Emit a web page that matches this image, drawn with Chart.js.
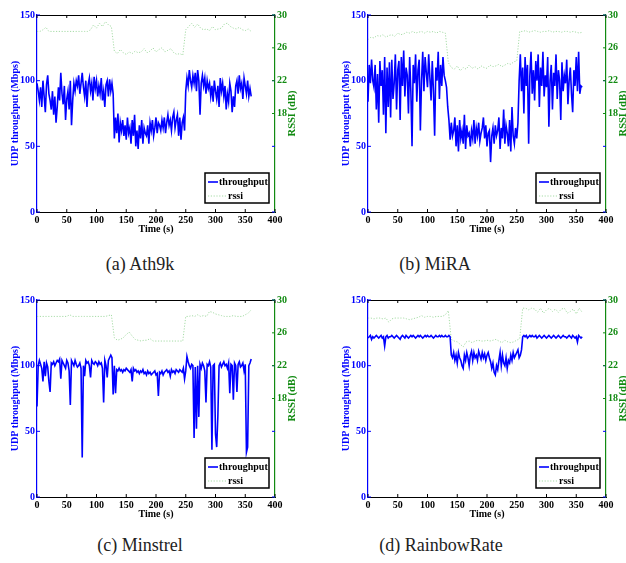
<!DOCTYPE html>
<html>
<head>
<meta charset="utf-8">
<script src="https://cdn.jsdelivr.net/npm/chart.js@4.4.0/dist/chart.umd.min.js"></script>
<style>
  html, body { margin: 0; padding: 0; background: #fff; overflow: hidden; }
  body { width: 626px; height: 563px; position: relative; }
  canvas { position: absolute; }
  .cap { position: absolute; width: 240px; text-align: center; font-family: "Liberation Serif", serif;
         font-size: 18px; line-height: 20px; color: #222; }
</style>
</head>
<body>
<canvas id="c1" width="305" height="240" style="left:0px;top:0px"></canvas>
<canvas id="c2" width="305" height="240" style="left:331px;top:0px"></canvas>
<canvas id="c3" width="305" height="240" style="left:0px;top:285px"></canvas>
<canvas id="c4" width="305" height="240" style="left:331px;top:285px"></canvas>
<div class="cap" style="left:20px;top:254px">(a) Ath9k</div>
<div class="cap" style="left:315px;top:254px">(b) MiRA</div>
<div class="cap" style="left:20px;top:535px">(c) Minstrel</div>
<div class="cap" style="left:321px;top:535px">(d) RainbowRate</div>
<script>
// sample times (s): throughput every 2 s, rssi every 5 s
const thrTimes = [];
for (let t = 0; t <= 360; t += 2) thrTimes.push(t);
const rssiTimes = [];
for (let t = 0; t <= 360; t += 5) rssiTimes.push(t);

const xTicks = [0, 50, 100, 150, 200, 250, 300, 350, 400];
const leftTicks = [0, 50, 100, 150];
const rightTicks = [18, 22, 26, 30];

// (a) Ath9k
const athThr = [
  98,92,85,95,80,100,88,76,97,104,
  90,85,78,92,74,88,68,80,95,85,
  106,90,82,96,70,86,92,78,100,66,
  85,98,92,100,96,104,90,98,106,95,
  88,100,80,97,102,92,98,85,103,94,
  100,88,96,90,102,85,92,80,97,100,
  88,101,92,98,90,
  56,72,60,75,53,68,62,70,58,66,
  55,72,60,64,52,70,58,74,50,62,
  48,66,56,70,52,64,60,58,66,52,
  68,62,70,58,64,72,60,68,66,62,
  70,64,72,60,68,74,66,70,62,72,
  76,64,70,74,58,72,55,68,72,62,
  92,102,96,108,100,95,104,98,106,92,
  108,100,74,98,104,96,102,90,100,94,
  98,88,96,84,100,92,86,96,80,102,
  92,98,88,96,78,90,84,98,92,76,
  88,80,96,100,90,104,94,98,86,102,
  96,90,100,88,94,88
];
const athRssi = [
  28,28,28.2,28.5,28,28,28,28,28,28,28,28,28,28,28,28,28,28,
  28.2,28.8,28.4,29,28.6,29.2,28.8,28.6,
  25.6,25.3,25.8,25.4,25.2,25.5,25.3,25.6,25.4,25.5,25.9,25.4,25.6,26,25.5,25.8,26,25.5,25.7,25.9,25.4,25.2,25.3,25.1,
  28.2,28.6,29,28.5,28.9,28.4,28.2,28.3,28.1,28.6,28.2,28.3,28.4,28.9,29,28.6,28.4,28.3,28.5,28.2,28.1,28.3,28
];

// (b) MiRA
const miraThr = [
  84,112,98,116,100,95,112,78,105,68,
  115,96,108,74,118,60,110,80,114,72,
  116,86,98,120,78,108,115,70,118,96,
  123,88,110,104,75,118,92,50,112,98,
  120,84,108,116,62,100,122,92,118,106,
  95,120,102,85,115,92,58,110,100,122,
  86,112,96,118,104,100,95,
  80,70,55,68,58,62,72,50,66,46,
  70,56,62,52,74,48,66,58,60,50,
  62,56,70,52,64,58,68,54,60,64,
  72,56,66,50,60,62,38,58,64,52,
  66,58,62,72,48,64,56,78,52,66,
  60,50,70,46,80,58,52,64,56,68,
  100,120,92,110,75,118,96,112,52,104,
  122,90,108,85,115,100,120,80,110,96,
  122,88,104,95,118,65,100,112,78,106,
  96,120,86,108,100,70,114,92,104,98,
  116,82,100,110,90,76,108,96,118,92,
  122,90,96,95
];
const miraRssi = [
  27,27.3,27.2,27.5,27.4,27.6,
  27.3,27.5,27.6,27.4,27.8,27.6,27.7,27.9,
  27.8,28,27.8,27.9,28,27.8,28,27.9,28,27.8,28,27.9,27.8,
  24.2,23.6,23.4,23.8,23.2,23.6,23.4,23.9,23.5,23.7,23.4,23.8,23.6,23.5,23.9,23.7,23.8,24,23.7,23.9,24.1,24,24.3,24.4,
  28,28,28.1,27.9,28,28.1,28,27.9,28,28,28.1,27.9,28,28,27.9,28,28,27.9,28,27.9,27.8,27.9
];

// (c) Minstrel
const minThr = [
  69,100,104,101,98,88,103,92,102,99,
  88,80,102,101,103,100,102,104,103,105,
  90,104,102,100,98,104,102,96,70,104,
  102,100,104,101,99,100,102,98,30,100,
  92,104,102,103,100,91,104,102,101,103,
  102,100,103,101,102,98,72,104,100,91,
  104,106,108,106,78,100,79,97,96,98,
  96,97,95,97,96,98,97,96,95,97,
  88,98,96,97,95,96,94,96,95,97,
  94,95,93,96,94,95,93,94,95,96,
  93,94,77,95,94,96,93,95,96,97,
  95,96,92,97,95,96,94,97,96,95,
  97,96,95,98,90,96,107,103,100,98,
  101,100,45,99,52,100,61,101,98,102,
  100,96,72,101,100,103,99,36,100,101,
  48,38,62,100,102,99,101,103,100,101,
  98,102,79,101,100,74,102,100,80,101,
  103,99,100,102,96,101,34,38,100,102,
  105
];
const minRssi = [
  28,28,28,28,28,28,28,28,28,28,28,28.2,28,28,28,28,28,28,28,28,28,28,28,28,28.1,28.2,
  25.4,25.1,25.2,25.4,25.8,26.1,25.6,25.2,25.1,25,25.1,25.1,25.3,25,25,25,25,25,25,25,25,25,25,25,
  28,28,28.1,28,28.2,28,28.1,28,28.6,28.5,28.3,28.2,28.1,28,28,28,28.1,28,28,28,28.2,28.4,28.8
];

// (d) RainbowRate
const rbThr = [
  121,122,123,120,122,121,122,123,122,121,
  122,123,121,122,115,122,123,121,122,122,
  123,122,121,122,123,122,121,120,122,123,
  122,121,123,122,121,122,123,122,123,122,
  121,122,123,122,123,122,121,122,123,122,
  123,122,122,123,122,121,122,123,122,122,
  123,122,123,122,122,123,122,122,123,122,
  108,106,110,104,108,102,110,106,104,100,
  98,108,104,110,106,100,108,111,104,110,
  106,108,104,111,108,105,110,106,109,104,
  108,110,106,103,98,102,95,93,100,97,
  104,110,100,108,102,100,106,98,104,102,
  108,104,110,106,108,110,112,106,108,112,
  122,123,122,123,121,122,123,122,123,122,
  122,123,121,122,123,122,121,122,123,122,
  121,122,123,122,121,122,123,122,121,122,
  123,122,121,122,123,122,122,121,122,123,
  122,121,123,122,121,122,118,123,122,121,
  122
];
const rbRssi = [
  27.8,27.8,27.7,27.8,27.8,27.7,27.8,27.3,27.7,27.8,27.8,27.8,27.8,27.7,27.6,27.7,27.8,27.9,28.1,27.9,28,28,27.9,28,28,28,28.2,28.7,
  25.2,25,24.9,24.6,24.3,24.9,25,24.8,25,25.1,25,25,25.1,25,25.1,25.2,25,24.8,25.1,24.9,24.8,24.9,25.1,25.3,
  29,29,28.8,29,28.9,28.5,29,28.4,28.8,29,28.6,28.9,28.5,28.9,29,28.4,28.6,28.9,28.3,29,28.5
];

const BLUE = '#0000ff';
const GREEN = '#118a11';
const tickFont = { family: 'Liberation Serif', size: 10, weight: 'bold', lineHeight: 1 };

// inward tick marks, top frame line, right title (reads upward), boxed legend
const frame = {
  id: 'frame',
  afterDraw(chart) {
    const { ctx, chartArea: ca, scales } = chart;
    ctx.save();
    ctx.lineWidth = 1;
    ctx.strokeStyle = '#000';
    ctx.beginPath();
    ctx.moveTo(ca.left, ca.top + 0.5);
    ctx.lineTo(ca.right, ca.top + 0.5);
    ctx.stroke();
    scales.x.ticks.forEach(t => {
      const px = scales.x.getPixelForValue(t.value);
      ctx.beginPath();
      ctx.moveTo(px, ca.bottom); ctx.lineTo(px, ca.bottom - 3);
      ctx.moveTo(px, ca.top); ctx.lineTo(px, ca.top + 3);
      ctx.stroke();
    });
    ctx.strokeStyle = BLUE;
    scales.y.ticks.forEach(t => {
      const py = scales.y.getPixelForValue(t.value);
      ctx.beginPath();
      ctx.moveTo(ca.left, py); ctx.lineTo(ca.left + 3, py);
      ctx.moveTo(ca.right, py); ctx.lineTo(ca.right - 3, py);
      ctx.stroke();
    });
    ctx.strokeStyle = GREEN;
    scales.y1.ticks.forEach(t => {
      const py = scales.y1.getPixelForValue(t.value);
      ctx.beginPath();
      ctx.moveTo(ca.right, py); ctx.lineTo(ca.right - 3, py);
      ctx.stroke();
    });

    // right axis title, rotated like the left one
    ctx.save();
    ctx.translate(ca.right + 17, (ca.top + ca.bottom) / 2);
    ctx.rotate(-Math.PI / 2);
    ctx.fillStyle = GREEN;
    ctx.font = 'bold 10.5px "Liberation Serif"';
    ctx.textAlign = 'center';
    ctx.textBaseline = 'middle';
    ctx.fillText(chart.options.scales.y1.title.text, 0, 0);
    ctx.restore();

    // legend
    const w = 64, h = 30;
    const x0 = ca.right - 6 - w, y0 = ca.bottom - 9 - h;
    ctx.fillStyle = '#fff';
    ctx.fillRect(x0, y0, w, h);
    ctx.strokeStyle = '#000';
    ctx.lineWidth = 1.5;
    ctx.strokeRect(x0, y0, w, h);
    ctx.font = 'bold 10px "Liberation Serif"';
    ctx.textBaseline = 'middle';
    ctx.textAlign = 'left';
    chart.data.datasets.forEach((ds, i) => {
      const y = y0 + 9 + i * 14;
      const len = i === 0 ? 10 : 19;
      ctx.strokeStyle = ds.borderColor;
      ctx.lineWidth = ds.borderWidth;
      ctx.setLineDash(ds.borderDash || []);
      ctx.beginPath();
      ctx.moveTo(x0 + 3, y); ctx.lineTo(x0 + 3 + len, y);
      ctx.stroke();
      ctx.setLineDash([]);
      ctx.fillStyle = '#000';
      ctx.fillText(ds.label, x0 + 4 + len, y);
    });
    ctx.restore();
  }
};

function makeChart(id, thr, rssi) {
  new Chart(document.getElementById(id), {
    type: 'line',
    data: {
      datasets: [{
        label: 'throughput',
        data: thr.map((v, i) => ({ x: thrTimes[i], y: v })),
        borderColor: BLUE,
        borderWidth: 1.6,
        pointRadius: 0,
        yAxisID: 'y'
      }, {
        label: 'rssi',
        data: rssi.map((v, i) => ({ x: rssiTimes[i], y: v })),
        borderColor: '#a6dba6',
        borderWidth: 1,
        borderDash: [1.2, 1.6],
        pointRadius: 0,
        yAxisID: 'y1'
      }]
    },
    options: {
      responsive: false,
      animation: false,
      layout: { padding: { top: 15, left: 0, right: 0, bottom: 0 } },
      plugins: { legend: { display: false }, tooltip: { enabled: false } },
      scales: {
        x: {
          type: 'linear', min: 0, max: 400,
          afterBuildTicks: s => { s.ticks = xTicks.map(v => ({ value: v })); },
          afterFit: s => { s.height = 28; },
          grid: { display: false, drawTicks: false },
          border: { color: '#000', width: 1 },
          ticks: { color: '#000', font: tickFont, padding: 3, maxRotation: 0 },
          title: { display: true, text: 'Time (s)', color: '#000', font: tickFont, padding: { top: 0, bottom: 6 } }
        },
        y: {
          position: 'left', min: 0, max: 150,
          afterBuildTicks: s => { s.ticks = leftTicks.map(v => ({ value: v })); },
          afterFit: s => { s.width = 37; },
          grid: { display: false, drawTicks: false },
          border: { color: BLUE, width: 1.2 },
          ticks: { color: BLUE, font: tickFont, padding: 2 },
          title: { display: true, text: 'UDP throughput (Mbps)', color: BLUE, font: tickFont, padding: { top: 10, bottom: 0 } }
        },
        y1: {
          position: 'right', min: 6, max: 30,
          afterBuildTicks: s => { s.ticks = rightTicks.map(v => ({ value: v })); },
          afterFit: s => { s.width = 30; },
          grid: { display: false, drawTicks: false },
          border: { color: GREEN, width: 1.2 },
          ticks: { color: GREEN, font: tickFont, padding: 2 },
          title: { display: false, text: 'RSSI (dB)' }
        }
      }
    },
    plugins: [frame]
  });
}

makeChart('c1', athThr, athRssi);
makeChart('c2', miraThr, miraRssi);
makeChart('c3', minThr, minRssi);
makeChart('c4', rbThr, rbRssi);
</script>
</body>
</html>
